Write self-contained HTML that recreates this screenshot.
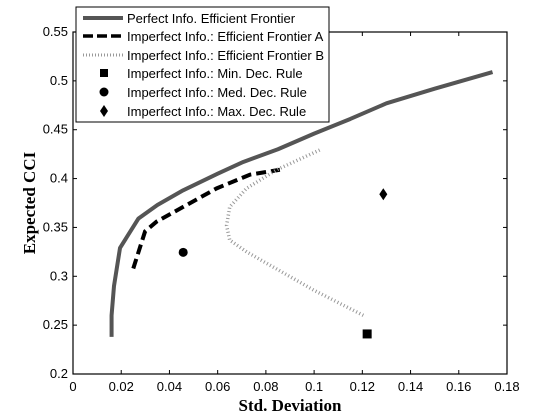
<!DOCTYPE html>
<html><head><meta charset="utf-8"><style>
body{margin:0;background:#fff;}
svg{display:block;font-family:"Liberation Sans",Arial,sans-serif;}
</style></head><body>
<svg id="chart" width="560" height="420" xmlns="http://www.w3.org/2000/svg">
<rect width="560" height="420" fill="#fff"/>
<g id="marks"></g>
<g id="axes"></g>
<text x="290" y="411" font-family="Liberation Serif,serif" font-weight="bold" font-size="17" text-anchor="middle">Std. Deviation</text>
<text transform="translate(35,203) rotate(-90)" font-family="Liberation Serif,serif" font-weight="bold" font-size="17" text-anchor="middle">Expected CCI</text>
<g>
<rect x="76" y="7" width="253" height="115" fill="#fff" stroke="#000" stroke-width="1"/>
<line x1="83" y1="18" x2="123" y2="18" stroke="#555" stroke-width="4"/>
<line x1="83" y1="36" x2="123" y2="36" stroke="#000" stroke-width="3.5" stroke-dasharray="10,4"/>
<line x1="83" y1="55" x2="123" y2="55" stroke="#999" stroke-width="3" stroke-dasharray="1,2"/>
<rect x="100" y="69" width="8" height="8" fill="#000"/>
<circle cx="104" cy="92" r="4.5" fill="#000"/>
<polygon points="104,105 108,111 104,117 100,111" fill="#000"/>
<g font-size="13" fill="#000">
<text x="127" y="23">Perfect Info. Efficient Frontier</text>
<text x="127" y="41">Imperfect Info.: Efficient Frontier A</text>
<text x="127" y="60">Imperfect Info.: Efficient Frontier B</text>
<text x="127" y="78">Imperfect Info.: Min. Dec. Rule</text>
<text x="127" y="97">Imperfect Info.: Med. Dec. Rule</text>
<text x="127" y="116">Imperfect Info.: Max. Dec. Rule</text>
</g></g>
</svg>
<script>
const perfectX=[0.016,0.016,0.017,0.0195,0.0271,0.035,0.0457,0.06,0.0706,0.085,0.1,0.115,0.13,0.15,0.174];
const perfectY=[0.238,0.26,0.29,0.329,0.359,0.373,0.388,0.405,0.417,0.43,0.446,0.461,0.477,0.492,0.509];
const aX=[0.025,0.0299,0.0347,0.0457,0.0596,0.0734,0.0858];
const aY=[0.308,0.346,0.356,0.371,0.39,0.404,0.409];
const bX=[0.1204,0.0997,0.072,0.065,0.0637,0.065,0.072,0.0845,0.103];
const bY=[0.260,0.286,0.325,0.337,0.352,0.371,0.39,0.409,0.43];
const minPt=[0.122,0.241], medPt=[0.0457,0.3245], maxPt=[0.1287,0.384];
const xTicks=[0,0.02,0.04,0.06,0.08,0.1,0.12,0.14,0.16,0.18];
const xTickLabels=["0","0.02","0.04","0.06","0.08","0.1","0.12","0.14","0.16","0.18"];
const yTicks=[0.2,0.25,0.3,0.35,0.4,0.45,0.5,0.55];
const yTickLabels=["0.2","0.25","0.3","0.35","0.4","0.45","0.5","0.55"];
const L=73,R=507,T=32,B=374;
const sx=v=>L+(v-0)/0.18*(R-L);
const sy=v=>B-(v-0.2)/0.35*(B-T);
const NS="http://www.w3.org/2000/svg";
const marks=document.getElementById('marks'),axes=document.getElementById('axes');
function mk(t,a,p){const e=document.createElementNS(NS,t);for(const k in a)e.setAttribute(k,a[k]);p.appendChild(e);return e;}
function pts(xs,ys){return xs.map((x,i)=>sx(x)+','+sy(ys[i])).join(' ');}
let e;
e=mk('polyline',{points:pts(perfectX,perfectY),fill:'none',stroke:'#555','stroke-width':4,'stroke-linejoin':'round'},marks);


e=mk('polyline',{points:pts(aX,aY),fill:'none',stroke:'#000','stroke-width':4,'stroke-dasharray':'10,5'},marks);


e=mk('polyline',{points:pts(bX,bY),fill:'none',stroke:'#999','stroke-width':3.5,'stroke-dasharray':'1,2.5'},marks);


e=mk('rect',{x:sx(minPt[0])-4.5,y:sy(minPt[1])-4.5,width:9,height:9,fill:'#000'},marks);


e=mk('circle',{cx:sx(medPt[0]),cy:sy(medPt[1]),r:4.5,fill:'#000'},marks);


const dx=sx(maxPt[0]),dy=sy(maxPt[1]);
e=mk('polygon',{points:`${dx},${dy-6} ${dx+4},${dy} ${dx},${dy+6} ${dx-4},${dy}`,fill:'#000'},marks);


e=mk('rect',{x:L,y:T,width:R-L,height:B-T,fill:'none',stroke:'#000','stroke-width':1.2},axes);


xTicks.forEach((v,i)=>{const x=sx(v);
mk('line',{x1:x,y1:B,x2:x,y2:B-4,stroke:'#000'},axes);
mk('line',{x1:x,y1:T,x2:x,y2:T+4,stroke:'#000'},axes);
const t=mk('text',{x:x,y:B+17,'text-anchor':'middle','font-size':13},axes);t.textContent=xTickLabels[i];

});
yTicks.forEach((v,i)=>{const y=sy(v);
mk('line',{x1:L,y1:y,x2:L+4,y2:y,stroke:'#000'},axes);
mk('line',{x1:R,y1:y,x2:R-4,y2:y,stroke:'#000'},axes);
const t=mk('text',{x:L-5,y:y+4,'text-anchor':'end','font-size':13},axes);t.textContent=yTickLabels[i];

});
</script>
</body></html>
